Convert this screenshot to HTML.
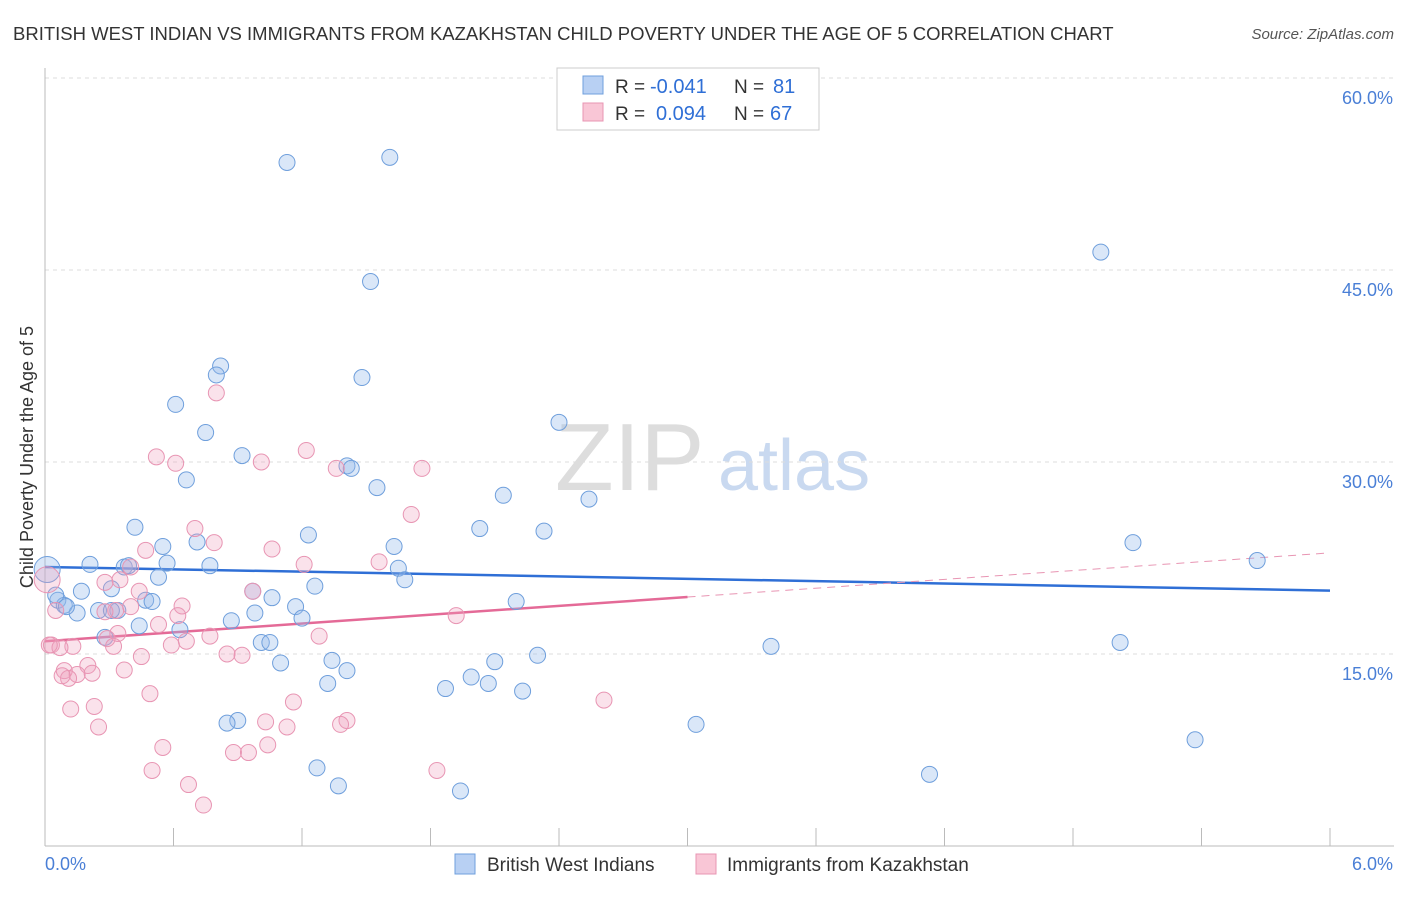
<!DOCTYPE html>
<html><head><meta charset="utf-8"><style>
body{margin:0;background:#fff;font-family:"Liberation Sans",sans-serif;}
svg text{font-family:"Liberation Sans",sans-serif;}
</style></head><body>
<svg id="chart" width="1406" height="892" viewBox="0 0 1406 892">
<text x="13" y="40" font-size="18.5" fill="#333">BRITISH WEST INDIAN VS IMMIGRANTS FROM KAZAKHSTAN CHILD POVERTY UNDER THE AGE OF 5 CORRELATION CHART</text>
<text x="1394" y="39" font-size="15" fill="#555" font-style="italic" text-anchor="end">Source: ZipAtlas.com</text>
<text transform="translate(33,457) rotate(-90)" font-size="18" fill="#333" text-anchor="middle">Child Poverty Under the Age of 5</text>
<g>
<text x="555" y="490" font-size="96" fill="#ddd" font-family="Liberation Serif,serif">ZIP</text>
<text x="718" y="490" font-size="72" fill="#c9d9f0">atlas</text>
</g>
<g id="grid"></g><g id="axes"></g><g id="lines"></g><g id="pts"></g>
<g>
<rect x="557" y="68" width="262" height="62" fill="#fff" stroke="#ccc"/>
<rect x="583" y="76" width="20" height="18" fill="#b8d0f3" stroke="#6f9fdc"/>
<rect x="583" y="103" width="20" height="18" fill="#f9c6d6" stroke="#e895b3"/>
<text x="615" y="93" font-size="19" fill="#333">R =</text>
<text x="650" y="93" font-size="20" fill="#2f6fd6">-0.041</text>
<text x="734" y="93" font-size="19" fill="#333">N =</text>
<text x="773" y="93" font-size="20" fill="#2f6fd6">81</text>
<text x="615" y="120" font-size="19" fill="#333">R =</text>
<text x="656" y="120" font-size="20" fill="#2f6fd6">0.094</text>
<text x="734" y="120" font-size="19" fill="#333">N =</text>
<text x="770" y="120" font-size="20" fill="#2f6fd6">67</text>
</g>
<g>
<rect x="455" y="854" width="20" height="20" fill="#b8d0f3" stroke="#6f9fdc"/>
<text x="487" y="871" font-size="19" fill="#333">British West Indians</text>
<rect x="696" y="854" width="20" height="20" fill="#f9c6d6" stroke="#e895b3"/>
<text x="727" y="871" font-size="19" fill="#333">Immigrants from Kazakhstan</text>
</g>
</svg>
<script>
const blueX=[1.13,1.61,1.52,4.93,0.82,0.80,1.48,0.61,0.75,0.92,2.40,0.66,1.41,1.43,1.55,2.14,2.54,0.42,2.03,2.33,1.23,0.55,0.71,1.63,5.08,5.66,0.57,0.21,0.37,0.77,0.39,1.65,1.68,0.53,0.31,0.17,0.97,1.26,1.06,0.47,0.50,2.20,0.06,0.09,0.25,0.15,0.34,0.31,1.17,0.98,1.20,0.87,0.44,0.63,0.28,1.01,1.05,5.02,3.39,1.10,1.34,2.30,1.41,2.10,1.99,1.32,2.07,1.87,2.23,0.90,0.85,3.04,5.37,1.27,4.13,1.37,1.94,0.01,0.05,0.10];
const blueY=[53.4,53.8,44.1,46.4,37.5,36.8,36.6,34.5,32.3,30.5,33.1,28.6,29.7,29.5,28.0,27.4,27.1,24.9,24.8,24.6,24.3,23.4,23.75,23.4,23.7,22.3,22.1,22.0,21.8,21.9,21.9,21.7,20.8,21.0,20.1,19.9,19.9,20.3,19.4,19.2,19.1,19.1,19.2,18.8,18.4,18.2,18.4,18.4,18.7,18.2,17.8,17.6,17.2,16.9,16.3,15.9,15.9,15.9,15.6,14.3,14.5,14.9,13.7,14.4,13.2,12.7,12.7,12.3,12.1,9.8,9.6,9.5,8.3,6.1,5.6,4.7,4.3,21.6,19.6,18.7];
const pinkX=[0.80,0.52,0.61,1.01,1.22,1.36,1.76,1.71,0.70,0.79,0.47,1.06,0.35,0.28,0.40,1.21,1.56,0.44,0.97,0.64,0.40,0.33,0.28,1.92,0.62,0.53,0.34,1.28,0.77,0.29,0.66,0.59,0.32,0.03,0.13,0.07,0.45,0.92,0.85,0.20,0.09,0.15,0.22,0.37,0.11,0.08,0.49,1.16,2.61,0.12,0.23,1.41,1.38,1.03,1.13,0.25,0.55,1.04,0.88,0.95,0.50,1.83,0.67,0.74,0.01,0.05,0.02];
const pinkY=[35.4,30.4,29.9,30.0,30.9,29.5,29.5,25.9,24.8,23.7,23.1,23.2,20.8,20.6,21.8,22.0,22.2,19.9,19.9,18.75,18.7,18.4,18.3,18.0,18.0,17.3,16.6,16.4,16.4,16.2,16.0,15.7,15.6,15.7,15.6,15.5,14.8,14.9,15.0,14.1,13.7,13.4,13.5,13.75,13.1,13.3,11.9,11.25,11.4,10.7,10.9,9.8,9.5,9.7,9.3,9.3,7.7,7.9,7.3,7.3,5.9,5.9,4.8,3.2,20.8,18.4,15.7];
const blueTrend=[21.8,19.95];
const pinkTrend=[16.0,22.9];
const yTicks=[15,30,45,60];
const yTickLabels=["15.0%","30.0%","45.0%","60.0%"];
const xTicks=[0,0.6,1.2,1.8,2.4,3.0,3.6,4.2,4.8,5.4,6.0];

const NS="http://www.w3.org/2000/svg";
const X=v=>45+v*(1285/6);
const Y=v=>846-v*12.8;
function mk(t,a,p){const e=document.createElementNS(NS,t);for(const k in a)e.setAttribute(k,a[k]);p.appendChild(e);return e;}
const grid=document.getElementById('grid'),axes=document.getElementById('axes'),lines=document.getElementById('lines'),pts=document.getElementById('pts');
yTicks.forEach((t,i)=>{
 const l=mk('line',{x1:45,x2:1394,y1:Y(t),y2:Y(t),stroke:'#ddd','stroke-dasharray':'4,4'},grid);
 
 
 const tx=mk('text',{x:1393,y:Y(t)+26,'font-size':18,fill:'#4a7fd6','text-anchor':'end'},axes);
 tx.textContent=yTickLabels[i];
 
 
});
const ax=mk('line',{x1:45,x2:1394,y1:846,y2:846,stroke:'#bbb'},axes);


const ay=mk('line',{x1:45,x2:45,y1:68,y2:846,stroke:'#bbb'},axes);


xTicks.forEach(t=>{
 const l=mk('line',{x1:X(t),x2:X(t),y1:828,y2:846,stroke:'#bbb'},axes);
 
 
});
const xl0=mk('text',{x:45,y:870,'font-size':18,fill:'#4a7fd6'},axes);xl0.textContent='0.0%';


const xl1=mk('text',{x:1393,y:870,'font-size':18,fill:'#4a7fd6','text-anchor':'end'},axes);xl1.textContent='6.0%';



function dots(xs,ys,fill,stroke,name,bigIdx){xs.forEach((x,i)=>{
 const big=(i===bigIdx);
 const c=mk('circle',{cx:X(x),cy:Y(ys[i]),r:big?13:8,fill:fill,stroke:stroke,'stroke-width':1},pts);
 
 
});}
dots(blueX,blueY,'rgba(150,185,235,0.35)','#6f9fdc','british-west-indian-point',blueX.length-3);
dots(pinkX,pinkY,'rgba(240,160,190,0.3)','#e895b3','kazakhstan-point',pinkX.length-3);

const bl=mk('line',{x1:X(0),y1:Y(blueTrend[0]),x2:X(6),y2:Y(blueTrend[1]),stroke:'#2f6fd6','stroke-width':2.5},lines);


const pm=(pinkTrend[0]+pinkTrend[1])/2;
const pl=mk('line',{x1:X(0),y1:Y(pinkTrend[0]),x2:X(3),y2:Y(pm),stroke:'#e46a97','stroke-width':2.5},lines);


const pd=mk('line',{x1:X(3),y1:Y(pm),x2:X(6),y2:Y(pinkTrend[1]),stroke:'#e895b3','stroke-width':1,'stroke-dasharray':'8,6'},lines);


</script>
</body></html>
